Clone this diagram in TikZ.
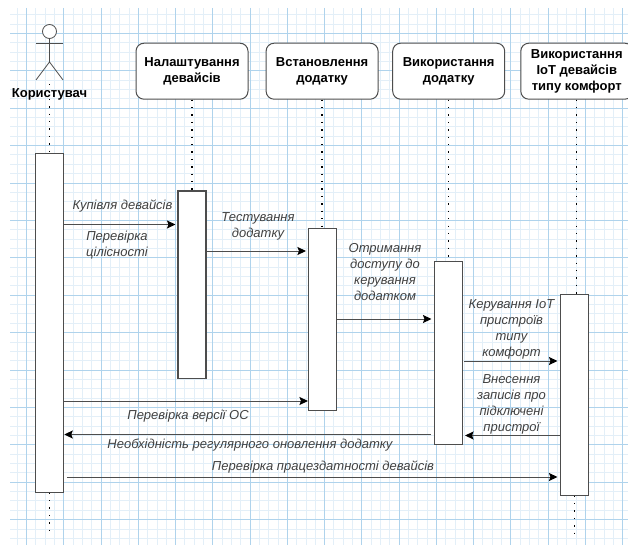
\documentclass[tikz,border=0pt]{standalone}
\usepackage{fontspec}
\setmainfont{Liberation Sans}
\usetikzlibrary{positioning,arrows.meta}
\definecolor{gridminor}{HTML}{E3EFF8}
\definecolor{gridmajor}{HTML}{AFD3EC}
\definecolor{edgegray}{HTML}{4D4D4D}
\definecolor{labelgray}{HTML}{404040}
\tikzset{
  lifehead/.style={draw=edgegray, line width=1pt, rounded corners=8pt, fill=white, minimum width=112pt, minimum height=56pt, align=center, font=\fontsize{13}{16}\selectfont\bfseries, inner sep=0pt},
  activation/.style={draw=edgegray, line width=1.1pt, fill=white, minimum width=28pt, anchor=north, inner sep=0pt},
  lifeline/.style={line width=1.3pt, dash pattern=on 1.4pt off 6pt, black},
  message/.style={draw=edgegray, line width=1pt, -{Stealth[length=8.5pt,width=8pt,inset=1.5pt,color=black]}},
  msglabel/.style={align=center, text=labelgray, font=\fontsize{13}{16}\selectfont\itshape, inner sep=0pt},
  actorline/.style={draw=edgegray, line width=0.8pt}
}

\begin{document}
\begin{tikzpicture}[x=1pt, y=-1pt]
    \useasboundingbox (0,0) rectangle (628,545);
    % grid
    \foreach \i in {-1,...,64} {
      \draw[gridminor, line width=0.7pt] ({26.5+9.3125*\i},8) -- ({26.5+9.3125*\i},545);
    }
    \foreach \i in {-2,...,55} {
      \draw[gridminor, line width=0.7pt] (10,{33.3+9.35*\i}) -- (628,{33.3+9.35*\i});
    }
    \foreach \i in {0,...,16} {
      \draw[gridmajor, line width=0.7pt] ({26.5+37.25*\i},8) -- ({26.5+37.25*\i},545);
    }
    \foreach \i in {0,...,13} {
      \draw[gridmajor, line width=0.7pt] (10,{33.3+37.4*\i}) -- (628,{33.3+37.4*\i});
    }

    % lifeline heads
    \node [circle, draw=edgegray, line width=0.8pt, fill=white, minimum size=14pt, inner sep=0pt] (actorhead) at (49.5,31.5) {};
    \node [font=\fontsize{13}{14}\selectfont\bfseries, inner sep=0pt] (actorname) at (49.5,94) {Користувач};
    \node [lifehead] (headSetup) at (192,71.2) {Налаштування\\девайсів};
    \node [lifehead, right=17.1pt of headSetup] (headInstall) {Встановлення\\додатку};
    \node [lifehead, right=13.6pt of headInstall] (headUse) {Використання\\додатку};
    \node [lifehead, right=15.1pt of headUse] (headComfort) {Використання\\IoT девайсів\\типу комфорт};

    % stick figure
    \coordinate (actorhip) at (49.5,62);
    \coordinate (armleft) at (36,43);
    \coordinate (armright) at (63,43);
    \coordinate (legleft) at (36,80);
    \coordinate (legright) at (63,80);
    \draw[actorline] (actorhead) -- (actorhip);
    \draw[actorline] (armleft) -- (armright);
    \draw[actorline] (legleft) -- (actorhip) -- (legright);

    % activation bars
    \node [activation, minimum height=338.5pt] (actUser) at (49.7,153) {};
    \node [activation, minimum height=187pt, right=113.2pt of actUser.north east, anchor=north west, yshift=-37.5pt] (actSetup) {};
    \node [activation, minimum height=182pt, right=101.4pt of actSetup.north east, anchor=north west, yshift=-37.5pt] (actInstall) {};
    \node [activation, minimum height=183.5pt, right=96.9pt of actInstall.north east, anchor=north west, yshift=-32.5pt] (actUse) {};
    \node [activation, minimum height=201pt, right=96.9pt of actUse.north east, anchor=north west, yshift=-33pt] (actComfort) {};

    % lifelines
    \coordinate (userdotA) at (49.3,84);
    \coordinate (userdotB) at (49.3,533);
    \coordinate (comfortdot) at (574.3,533);
    \draw[lifeline] (userdotA) -- (userdotA |- actUser.north);
    \draw[lifeline] (userdotB |- actUser.south) -- (userdotB);
    \draw[lifeline] (headSetup.south) -- (headSetup.south |- actSetup.north);
    \draw[lifeline] (headInstall.south) -- (headInstall.south |- actInstall.north);
    \draw[lifeline] (headUse.south) -- (headUse.south |- actUse.north);
    \draw[lifeline] (headComfort.south) -- (headComfort.south |- actComfort.north);
    \draw[lifeline] (comfortdot |- actComfort.south) -- (comfortdot);

    % messages
    \coordinate (lvlBuy) at (0,224.5);
    \coordinate (lvlTest) at (0,251);
    \coordinate (lvlAccess) at (0,319);
    \coordinate (lvlControl) at (0,361);
    \coordinate (lvlRecord) at (0,435.5);
    \coordinate (lvlVersion) at (0,401);
    \coordinate (lvlUpdate) at (0,434.5);
    \coordinate (lvlCheck) at (0,477);
    \draw[message] (actUser.east |- lvlBuy) -- ([xshift=-2pt]actSetup.west |- lvlBuy);
    \draw[message] (actSetup.east |- lvlTest) -- ([xshift=-2pt]actInstall.west |- lvlTest);
    \draw[message] (actInstall.east |- lvlAccess) -- ([xshift=-2.5pt]actUse.west |- lvlAccess);
    \draw[message] ([xshift=1pt]actUse.east |- lvlControl) -- ([xshift=-2.5pt]actComfort.west |- lvlControl);
    \draw[message] (actComfort.west |- lvlRecord) -- ([xshift=2pt]actUse.east |- lvlRecord);
    \draw[message] (actUser.east |- lvlVersion) -- (actInstall.west |- lvlVersion);
    \draw[message] ([xshift=-3pt]actUse.west |- lvlUpdate) -- (actUser.east |- lvlUpdate);
    \draw[message] ([xshift=2.5pt]actUser.east |- lvlCheck) -- ([xshift=-2.5pt]actComfort.west |- lvlCheck);

    % labels
    \node [msglabel] (lblBuy) at (122.5,206) {Купівля девайсів};
    \node [msglabel] (lblIntact) at (117,245) {Перевірка\\цілісності};
    \node [msglabel] (lblTest) at (258,226) {Тестування\\додатку};
    \node [msglabel] (lblAccess) at (385,272) {Отримання\\доступу до\\керування\\додатком};
    \node [msglabel] (lblControl) at (511.5,329) {Керування IoT\\пристроїв\\типу\\комфорт};
    \node [msglabel] (lblRecord) at (511.5,404) {Внесення\\записів про\\підключені\\пристрої};
    \node [msglabel] (lblVersion) at (188,416) {Перевірка версії ОС};
    \node [msglabel] (lblUpdate) at (250,445) {Необхідність регулярного оновлення додатку};
    \node [msglabel] (lblCheck) at (323,467.5) {Перевірка працездатності девайсів};
\end{tikzpicture}
\end{document}
